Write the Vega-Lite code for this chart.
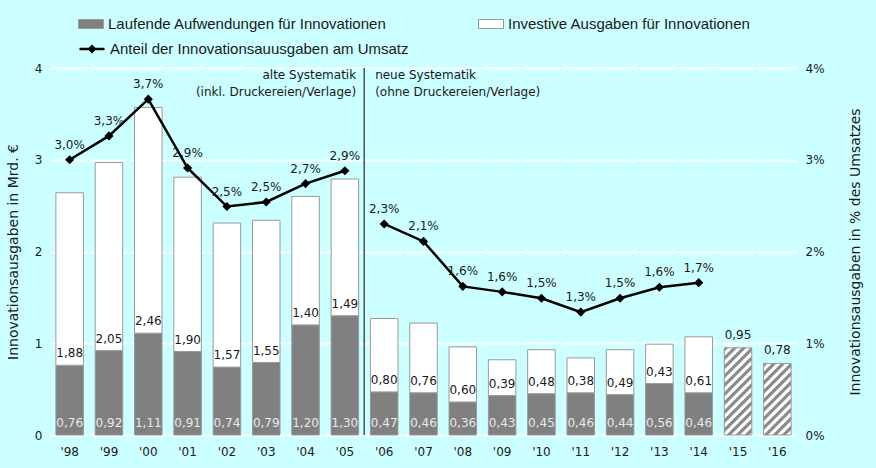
{
  "$schema": "https://vega.github.io/schema/vega-lite/v6.json",
  "width": 747,
  "height": 367,
  "autosize": {"type": "none"},
  "padding": {"left": 50, "top": 68, "right": 79, "bottom": 33},
  "background": "#ccffff",
  "config": {
    "locale": {"number": {"decimal": ",", "thousands": ".", "grouping": [3], "currency": ["", " €"], "percent": "%"}},
    "font": "DejaVu Sans",
    "view": {"stroke": null},
    "axis": {"labelFont": "DejaVu Sans", "labelFontSize": 12, "labelColor": "#1a1a1a", "titleFont": "DejaVu Sans", "titleFontSize": 14, "titleFontWeight": "normal", "titleColor": "#1a1a1a", "domain": false, "ticks": false},
    "text": {"font": "DejaVu Sans", "fontSize": 12},
    "legend": {"labelFont": "Liberation Sans", "labelFontSize": 15, "labelColor": "#1a1a1a", "padding": 0, "labelLimit": 500}
  },
  "datasets": {
    "main": [
      {"year": "'98", "lauf": 0.76, "inv": 1.88, "total": 2.64, "pct": 0.0300, "seg": "alt"},
      {"year": "'99", "lauf": 0.92, "inv": 2.05, "total": 2.97, "pct": 0.0326, "seg": "alt"},
      {"year": "'00", "lauf": 1.11, "inv": 2.46, "total": 3.57, "pct": 0.0366, "seg": "alt"},
      {"year": "'01", "lauf": 0.91, "inv": 1.90, "total": 2.81, "pct": 0.0291, "seg": "alt"},
      {"year": "'02", "lauf": 0.74, "inv": 1.57, "total": 2.31, "pct": 0.0249, "seg": "alt"},
      {"year": "'03", "lauf": 0.79, "inv": 1.55, "total": 2.34, "pct": 0.0254, "seg": "alt"},
      {"year": "'04", "lauf": 1.20, "inv": 1.40, "total": 2.60, "pct": 0.0274, "seg": "alt"},
      {"year": "'05", "lauf": 1.30, "inv": 1.49, "total": 2.79, "pct": 0.0288, "seg": "alt"},
      {"year": "'06", "lauf": 0.47, "inv": 0.80, "total": 1.27, "pct": 0.0230, "seg": "neu"},
      {"year": "'07", "lauf": 0.46, "inv": 0.76, "total": 1.22, "pct": 0.0211, "seg": "neu"},
      {"year": "'08", "lauf": 0.36, "inv": 0.60, "total": 0.96, "pct": 0.0162, "seg": "neu"},
      {"year": "'09", "lauf": 0.43, "inv": 0.39, "total": 0.82, "pct": 0.0156, "seg": "neu"},
      {"year": "'10", "lauf": 0.45, "inv": 0.48, "total": 0.93, "pct": 0.0149, "seg": "neu"},
      {"year": "'11", "lauf": 0.46, "inv": 0.38, "total": 0.84, "pct": 0.0134, "seg": "neu"},
      {"year": "'12", "lauf": 0.44, "inv": 0.49, "total": 0.93, "pct": 0.0149, "seg": "neu"},
      {"year": "'13", "lauf": 0.56, "inv": 0.43, "total": 0.99, "pct": 0.0161, "seg": "neu"},
      {"year": "'14", "lauf": 0.46, "inv": 0.61, "total": 1.07, "pct": 0.0166, "seg": "neu"},
      {"year": "'15", "prog": 0.95},
      {"year": "'16", "prog": 0.78}
    ]
  },
  "data": {"name": "main"},
  "encoding": {
    "x": {
      "field": "year", "type": "ordinal", "sort": null,
      "scale": {"domain": ["'98","'99","'00","'01","'02","'03","'04","'05","'06","'07","'08","'09","'10","'11","'12","'13","'14","'15","'16"], "paddingInner": 0.3, "paddingOuter": 0.15},
      "axis": {"title": null, "labelAngle": 0, "labelPadding": 11, "grid": false}
    }
  },
  "layer": [
    {
      "layer": [
        {
          "transform": [{"filter": {"field": "lauf", "valid": true}}],
          "mark": {"type": "bar", "stroke": "#999999", "strokeWidth": 1},
          "encoding": {
            "y": {
              "field": "lauf", "type": "quantitative",
              "scale": {"domain": [0, 4], "nice": false},
              "axis": {"title": "Innovationsausgaben in Mrd. €", "values": [0, 1, 2, 3, 4], "format": "d", "grid": true, "gridColor": "#ffffff", "gridOpacity": 1, "gridWidth": 2, "gridDash": [37.6, 1.7], "labelPadding": 8, "titleX": -37, "titleY": 183.5, "titleAngle": -90, "titleAlign": "center", "titleBaseline": "middle"}
            },
            "fill": {
              "datum": "Laufende Aufwendungen für Innovationen", "type": "nominal",
              "scale": {"domain": ["Laufende Aufwendungen für Innovationen", "Investive Ausgaben für Innovationen"], "range": ["#808080", "#ffffff"]},
              "legend": {"title": null, "orient": "none", "legendX": 28, "legendY": -57, "direction": "horizontal", "columns": 2, "columnPadding": 89, "symbolType": "M-1,-0.36H1V0.36H-1Z", "symbolSize": 625, "symbolStrokeColor": "#999999", "symbolStrokeWidth": 1, "labelOffset": 4}
            }
          }
        },
        {
          "transform": [{"filter": {"field": "lauf", "valid": true}}],
          "mark": {"type": "bar", "stroke": "#999999", "strokeWidth": 1},
          "encoding": {
            "y": {"field": "total", "type": "quantitative"},
            "y2": {"field": "lauf"},
            "fill": {"datum": "Investive Ausgaben für Innovationen", "type": "nominal"}
          }
        },
        {
          "transform": [{"filter": {"field": "year", "equal": "'15"}}],
          "mark": {"type": "bar", "stroke": "#999999", "strokeWidth": 1,
            "fill": {"gradient": "linear", "x1": 0, "y1": 0, "x2": 0.394, "y2": 1.25, "stops": [
              {"offset": 0, "color": "#8c8c8c"}, {"offset": 0.028, "color": "#8c8c8c"}, {"offset": 0.0375, "color": "#ffffff"}, {"offset": 0.0655, "color": "#ffffff"},
              {"offset": 0.075, "color": "#8c8c8c"}, {"offset": 0.103, "color": "#8c8c8c"}, {"offset": 0.1125, "color": "#ffffff"}, {"offset": 0.1405, "color": "#ffffff"},
              {"offset": 0.15, "color": "#8c8c8c"}, {"offset": 0.178, "color": "#8c8c8c"}, {"offset": 0.1875, "color": "#ffffff"}, {"offset": 0.2155, "color": "#ffffff"},
              {"offset": 0.225, "color": "#8c8c8c"}, {"offset": 0.253, "color": "#8c8c8c"}, {"offset": 0.2625, "color": "#ffffff"}, {"offset": 0.2905, "color": "#ffffff"},
              {"offset": 0.3, "color": "#8c8c8c"}, {"offset": 0.328, "color": "#8c8c8c"}, {"offset": 0.3375, "color": "#ffffff"}, {"offset": 0.3655, "color": "#ffffff"},
              {"offset": 0.375, "color": "#8c8c8c"}, {"offset": 0.403, "color": "#8c8c8c"}, {"offset": 0.4125, "color": "#ffffff"}, {"offset": 0.4405, "color": "#ffffff"},
              {"offset": 0.45, "color": "#8c8c8c"}, {"offset": 0.478, "color": "#8c8c8c"}, {"offset": 0.4875, "color": "#ffffff"}, {"offset": 0.5155, "color": "#ffffff"},
              {"offset": 0.525, "color": "#8c8c8c"}, {"offset": 0.553, "color": "#8c8c8c"}, {"offset": 0.5625, "color": "#ffffff"}, {"offset": 0.5905, "color": "#ffffff"},
              {"offset": 0.6, "color": "#8c8c8c"}, {"offset": 0.628, "color": "#8c8c8c"}, {"offset": 0.6375, "color": "#ffffff"}, {"offset": 0.6655, "color": "#ffffff"},
              {"offset": 0.675, "color": "#8c8c8c"}, {"offset": 0.703, "color": "#8c8c8c"}, {"offset": 0.7125, "color": "#ffffff"}, {"offset": 0.7405, "color": "#ffffff"},
              {"offset": 0.75, "color": "#8c8c8c"}, {"offset": 0.778, "color": "#8c8c8c"}, {"offset": 0.7875, "color": "#ffffff"}, {"offset": 0.8155, "color": "#ffffff"},
              {"offset": 0.825, "color": "#8c8c8c"}, {"offset": 0.853, "color": "#8c8c8c"}, {"offset": 0.8625, "color": "#ffffff"}, {"offset": 0.8905, "color": "#ffffff"},
              {"offset": 0.9, "color": "#8c8c8c"}, {"offset": 0.928, "color": "#8c8c8c"}, {"offset": 0.9375, "color": "#ffffff"}, {"offset": 0.9655, "color": "#ffffff"},
              {"offset": 0.975, "color": "#8c8c8c"}, {"offset": 1, "color": "#8c8c8c"}
            ]}
          },
          "encoding": {"y": {"field": "prog", "type": "quantitative"}}
        },
        {
          "transform": [{"filter": {"field": "year", "equal": "'16"}}],
          "mark": {"type": "bar", "stroke": "#999999", "strokeWidth": 1,
            "fill": {"gradient": "linear", "x1": 0, "y1": 0, "x2": 0.561, "y2": 1.46, "stops": [
              {"offset": 0, "color": "#8c8c8c"}, {"offset": 0.028, "color": "#8c8c8c"}, {"offset": 0.0375, "color": "#ffffff"}, {"offset": 0.0655, "color": "#ffffff"},
              {"offset": 0.075, "color": "#8c8c8c"}, {"offset": 0.103, "color": "#8c8c8c"}, {"offset": 0.1125, "color": "#ffffff"}, {"offset": 0.1405, "color": "#ffffff"},
              {"offset": 0.15, "color": "#8c8c8c"}, {"offset": 0.178, "color": "#8c8c8c"}, {"offset": 0.1875, "color": "#ffffff"}, {"offset": 0.2155, "color": "#ffffff"},
              {"offset": 0.225, "color": "#8c8c8c"}, {"offset": 0.253, "color": "#8c8c8c"}, {"offset": 0.2625, "color": "#ffffff"}, {"offset": 0.2905, "color": "#ffffff"},
              {"offset": 0.3, "color": "#8c8c8c"}, {"offset": 0.328, "color": "#8c8c8c"}, {"offset": 0.3375, "color": "#ffffff"}, {"offset": 0.3655, "color": "#ffffff"},
              {"offset": 0.375, "color": "#8c8c8c"}, {"offset": 0.403, "color": "#8c8c8c"}, {"offset": 0.4125, "color": "#ffffff"}, {"offset": 0.4405, "color": "#ffffff"},
              {"offset": 0.45, "color": "#8c8c8c"}, {"offset": 0.478, "color": "#8c8c8c"}, {"offset": 0.4875, "color": "#ffffff"}, {"offset": 0.5155, "color": "#ffffff"},
              {"offset": 0.525, "color": "#8c8c8c"}, {"offset": 0.553, "color": "#8c8c8c"}, {"offset": 0.5625, "color": "#ffffff"}, {"offset": 0.5905, "color": "#ffffff"},
              {"offset": 0.6, "color": "#8c8c8c"}, {"offset": 0.628, "color": "#8c8c8c"}, {"offset": 0.6375, "color": "#ffffff"}, {"offset": 0.6655, "color": "#ffffff"},
              {"offset": 0.675, "color": "#8c8c8c"}, {"offset": 0.703, "color": "#8c8c8c"}, {"offset": 0.7125, "color": "#ffffff"}, {"offset": 0.7405, "color": "#ffffff"},
              {"offset": 0.75, "color": "#8c8c8c"}, {"offset": 0.778, "color": "#8c8c8c"}, {"offset": 0.7875, "color": "#ffffff"}, {"offset": 0.8155, "color": "#ffffff"},
              {"offset": 0.825, "color": "#8c8c8c"}, {"offset": 0.853, "color": "#8c8c8c"}, {"offset": 0.8625, "color": "#ffffff"}, {"offset": 0.8905, "color": "#ffffff"},
              {"offset": 0.9, "color": "#8c8c8c"}, {"offset": 0.928, "color": "#8c8c8c"}, {"offset": 0.9375, "color": "#ffffff"}, {"offset": 0.9655, "color": "#ffffff"},
              {"offset": 0.975, "color": "#8c8c8c"}, {"offset": 1, "color": "#8c8c8c"}
            ]}
          },
          "encoding": {"y": {"field": "prog", "type": "quantitative"}}
        },
        {
          "transform": [{"filter": {"field": "lauf", "valid": true}}],
          "mark": {"type": "text", "color": "#e8e8e8", "baseline": "alphabetic", "dy": -8},
          "encoding": {"y": {"datum": 0}, "text": {"field": "lauf", "type": "quantitative", "format": ".2f"}}
        },
        {
          "transform": [{"filter": {"field": "lauf", "valid": true}}],
          "mark": {"type": "text", "color": "#1a1a1a", "baseline": "alphabetic", "dy": -8},
          "encoding": {"y": {"field": "lauf", "type": "quantitative"}, "text": {"field": "inv", "type": "quantitative", "format": ".2f"}}
        },
        {
          "transform": [{"filter": {"field": "prog", "valid": true}}],
          "mark": {"type": "text", "color": "#1a1a1a", "baseline": "alphabetic", "dy": -9},
          "encoding": {"y": {"field": "prog", "type": "quantitative"}, "text": {"field": "prog", "type": "quantitative", "format": ".2f"}}
        },
        {
          "data": {"values": [{"year": "'05"}]},
          "mark": {"type": "rule", "color": "#000000", "strokeWidth": 1},
          "encoding": {"x": {"field": "year", "type": "ordinal", "bandPosition": 1.2}}
        },
        {
          "data": {"values": [{"year": "'05"}]},
          "mark": {"type": "text", "align": "right", "baseline": "alphabetic", "dx": -8, "lineHeight": 17, "color": "#1a1a1a"},
          "encoding": {"x": {"field": "year", "type": "ordinal", "bandPosition": 1.2}, "y": {"datum": 3.88}, "text": {"value": ["alte Systematik", "(inkl. Druckereien/Verlage)"]}}
        },
        {
          "data": {"values": [{"year": "'05"}]},
          "mark": {"type": "text", "align": "left", "baseline": "alphabetic", "dx": 11, "lineHeight": 17, "color": "#1a1a1a"},
          "encoding": {"x": {"field": "year", "type": "ordinal", "bandPosition": 1.2}, "y": {"datum": 3.88}, "text": {"value": ["neue Systematik", "(ohne Druckereien/Verlage)"]}}
        }
      ]
    },
    {
      "transform": [{"filter": {"field": "pct", "valid": true}}],
      "layer": [
        {
          "mark": {"type": "line", "strokeWidth": 2.5, "point": {"shape": "diamond", "size": 40, "filled": true, "color": "#000000"}},
          "encoding": {
            "y": {
              "field": "pct", "type": "quantitative",
              "scale": {"domain": [0, 0.04], "nice": false},
              "axis": {"orient": "right", "title": "Innovationsausgaben in % des Umsatzes", "format": ".0%", "values": [0, 0.01, 0.02, 0.03, 0.04], "grid": false, "labelPadding": 8, "titleX": 58, "titleY": 183.5, "titleAngle": -90, "titleAlign": "center", "titleBaseline": "middle"}
            },
            "detail": {"field": "seg", "type": "nominal"},
            "stroke": {
              "datum": "Anteil der Innovationsauusgaben am Umsatz", "type": "nominal",
              "scale": {"range": ["#000000"]},
              "legend": {"title": null, "orient": "none", "legendX": 28, "legendY": -33, "symbolType": "M-1,0H1M-0.22,0L0,-0.22L0.22,0L0,0.22Z", "symbolSize": 625, "symbolStrokeWidth": 2.5, "symbolFillColor": "#000000", "labelOffset": 4}
            }
          }
        },
        {
          "mark": {"type": "text", "color": "#1a1a1a", "baseline": "alphabetic", "dy": -11},
          "encoding": {"y": {"field": "pct", "type": "quantitative"}, "text": {"field": "pct", "type": "quantitative", "format": ".1%"}}
        }
      ]
    }
  ],
  "resolve": {"scale": {"y": "independent"}, "axis": {"y": "independent"}}
}
